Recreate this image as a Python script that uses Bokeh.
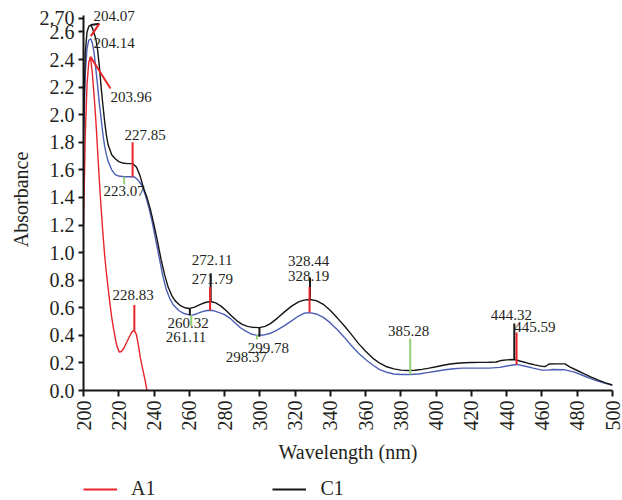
import math
from bokeh.plotting import figure
from bokeh.layouts import column
from bokeh.models import (ColumnDataSource, Range1d, FixedTicker, CustomJSTickFormatter,
                          Legend, LegendItem, LabelSet)
from bokeh.core.properties import value
from bokeh.embed import file_html
from bokeh.resources import INLINE

# --- UV-Vis absorbance spectra -------------------------------------------
wl_a1 = [200, 201, 202, 203, 203.96, 205, 206, 207, 208, 209, 210, 211, 212, 213, 214,
         215, 216, 217, 218, 219, 220.3, 221.5, 223, 224.5, 226, 227.5, 228.83, 230,
         231, 232.2, 233.5, 235, 236]
abs_a1 = [1.20, 1.85, 2.22, 2.38, 2.42, 2.30, 2.14, 1.96, 1.74, 1.52, 1.32, 1.14, 0.98,
          0.85, 0.74, 0.63, 0.53, 0.45, 0.38, 0.32, 0.278, 0.283, 0.31, 0.35, 0.39, 0.425,
          0.436, 0.405, 0.34, 0.24, 0.16, 0.07, 0.0]

wl_b1 = [200, 201, 202, 203, 204.14, 205, 206, 207, 208, 209, 210, 211, 212, 213, 214,
         216, 218, 220, 223.07, 226, 229, 231, 233, 235, 237, 239, 241, 243, 245, 247,
         249, 251, 254, 257, 261.11, 264, 267, 270, 271.79, 274, 277, 280, 283, 286, 289,
         292, 295, 298.37, 302, 306, 310, 314, 318, 322, 325, 328.19, 332, 336, 340, 344,
         348, 352, 356, 360, 364, 368, 372, 376, 380, 385.28, 390, 395, 400, 405, 410,
         415, 420, 430, 436, 440, 445.59, 450, 455, 460, 463, 466, 473, 478, 484, 490,
         495, 500]
abs_b1 = [1.80, 2.30, 2.48, 2.54, 2.55, 2.52, 2.45, 2.33, 2.21, 2.08, 1.97, 1.86, 1.77,
          1.71, 1.66, 1.60, 1.565, 1.555, 1.55, 1.55, 1.548, 1.525, 1.49, 1.42, 1.33,
          1.22, 1.09, 0.96, 0.83, 0.73, 0.665, 0.62, 0.58, 0.558, 0.545, 0.555, 0.57,
          0.58, 0.582, 0.578, 0.565, 0.55, 0.525, 0.49, 0.455, 0.43, 0.41, 0.40, 0.402,
          0.415, 0.44, 0.47, 0.505, 0.54, 0.56, 0.565, 0.555, 0.53, 0.49, 0.44, 0.385,
          0.325, 0.27, 0.225, 0.185, 0.152, 0.132, 0.12, 0.116, 0.116, 0.12, 0.13, 0.14,
          0.15, 0.158, 0.162, 0.162, 0.162, 0.168, 0.178, 0.189, 0.178, 0.162, 0.148,
          0.148, 0.152, 0.15, 0.135, 0.105, 0.075, 0.055, 0.038]

wl_c1 = [200, 201, 202, 203, 204.07, 205, 206, 207, 208, 209, 210, 211, 212, 213, 214,
         216, 218, 220, 222, 225, 228, 230, 232, 234, 236, 238, 240, 242, 244, 246, 248,
         250, 252, 255, 258, 260.32, 263, 266, 269, 272.11, 275, 278, 281, 284, 287, 290,
         293, 296, 299.78, 303, 306, 310, 314, 318, 322, 325, 328.44, 332, 336, 340, 344,
         348, 352, 356, 360, 364, 368, 372, 376, 380, 384, 388, 392, 396, 400, 404, 408,
         412, 416, 420, 425, 430, 434, 437, 440, 444.32, 448, 452, 456, 460, 462, 464,
         468, 473, 476, 480, 484, 488, 492, 496, 500]
abs_c1 = [1.90, 2.45, 2.60, 2.64, 2.65, 2.63, 2.59, 2.55, 2.47, 2.35, 2.20, 2.07, 1.95,
          1.85, 1.78, 1.71, 1.68, 1.66, 1.65, 1.645, 1.645, 1.62, 1.56, 1.47, 1.40, 1.31,
          1.20, 1.08, 0.95, 0.84, 0.75, 0.69, 0.65, 0.615, 0.598, 0.595, 0.605, 0.622,
          0.638, 0.645, 0.635, 0.612, 0.578, 0.54, 0.505, 0.48, 0.465, 0.458, 0.456,
          0.465, 0.485, 0.525, 0.57, 0.612, 0.643, 0.655, 0.66, 0.652, 0.625, 0.58, 0.525,
          0.468, 0.405, 0.34, 0.285, 0.235, 0.198, 0.172, 0.157, 0.148, 0.145, 0.147,
          0.153, 0.162, 0.172, 0.183, 0.192, 0.198, 0.201, 0.203, 0.204, 0.205, 0.207,
          0.218, 0.222, 0.225, 0.212, 0.198, 0.186, 0.175, 0.174, 0.192, 0.193, 0.193,
          0.17, 0.145, 0.12, 0.097, 0.075, 0.055, 0.04]

# Peak / valley wavelengths picked on the spectra
peak_nm = [204.07, 204.14, 203.96, 227.85, 223.07, 228.83, 260.32, 261.11, 272.11,
           271.79, 299.78, 298.37, 328.44, 328.19, 385.28, 444.32, 445.59]

x_ticks = list(range(200, 520, 20))
y_ticks = [0.0, 0.2, 0.4, 0.6, 0.8, 1.0, 1.2, 1.4, 1.6, 1.8, 2.0, 2.2, 2.4, 2.6, 2.7]

RED = "#e8242b"
BLUE = "#4d5fb5"
BLACK = "#151515"
GREEN = "#93d07a"
TEXT = "#231f20"
FONT = "Liberation Serif"

# Marker style per peak: colour, marker start/end heights, marker end wavelength
# (leaders for the crowded 204 nm region), and label anchor.
marker_style = {
    204.07: dict(color=BLACK, y0=2.65, y1=2.66, x1=209.0, lx=205.7, ly=2.716),
    204.14: dict(color=RED, y0=2.57, y1=2.66, x1=209.0, lx=205.7, ly=2.52),
    203.96: dict(color=RED, y0=2.42, y1=2.19, x1=215.3, lx=215.3, ly=2.13),
    227.85: dict(color=RED, y0=1.55, y1=1.80, lx=223.3, ly=1.85),
    223.07: dict(color=GREEN, y0=1.55, y1=1.495, lx=211.4, ly=1.45),
    228.83: dict(color=RED, y0=0.436, y1=0.62, lx=216.5, ly=0.69),
    260.32: dict(color=BLACK, y0=0.595, y1=0.545, lx=247.7, ly=0.49),
    261.11: dict(color=GREEN, y0=0.545, y1=0.465, lx=246.6, ly=0.385),
    272.11: dict(color=BLACK, y0=0.645, y1=0.85, lx=261.4, ly=0.944),
    271.79: dict(color=RED, y0=0.582, y1=0.75, lx=261.4, ly=0.806),
    299.78: dict(color=BLACK, y0=0.456, y1=0.39, lx=293.2, ly=0.31),
    298.37: dict(color=GREEN, y0=0.40, y1=0.37, lx=280.7, ly=0.24),
    328.44: dict(color=BLACK, y0=0.66, y1=0.82, lx=316.0, ly=0.937),
    328.19: dict(color=RED, y0=0.565, y1=0.75, lx=316.0, ly=0.83),
    385.28: dict(color=GREEN, y0=0.116, y1=0.377, lx=372.7, ly=0.435),
    444.32: dict(color=BLACK, y0=0.225, y1=0.486, lx=431.0, ly=0.545),
    445.59: dict(color=RED, y0=0.189, y1=0.42, lx=444.3, ly=0.46),
}

# Main spectrum plot (the y range runs a little past 2.70 so the top peak label fits)
p = figure(width=622, height=475, output_backend="svg", toolbar_location=None,
           x_range=Range1d(200, 500), y_range=Range1d(0, 2.77),
           min_border_left=83, min_border_right=10, min_border_top=8,
           min_border_bottom=85, background_fill_color="white",
           border_fill_color="white")
p.grid.visible = False
p.outline_line_color = None

r_a1 = p.line(wl_a1, abs_a1, line_color=RED, line_width=1.4)
r_b1 = p.line(wl_b1, abs_b1, line_color=BLUE, line_width=1.4)
r_c1 = p.line(wl_c1, abs_c1, line_color=BLACK, line_width=1.4)

seg = dict(x0=[], y0=[], x1=[], y1=[], color=[])
lab = dict(x=[], y=[], text=[])
for nm in peak_nm:
    st = marker_style[nm]
    seg["x0"].append(nm)
    seg["y0"].append(st["y0"])
    seg["x1"].append(st.get("x1", nm))
    seg["y1"].append(st["y1"])
    seg["color"].append(st["color"])
    lab["x"].append(st["lx"])
    lab["y"].append(st["ly"])
    lab["text"].append(f"{nm:.2f}")

p.segment(x0="x0", y0="y0", x1="x1", y1="y1", line_color="color", line_width=2,
          source=ColumnDataSource(seg))
p.add_layout(LabelSet(x="x", y="y", text="text", source=ColumnDataSource(lab),
                      text_align="left", text_baseline="middle",
                      text_font=value(FONT), text_font_size="15px", text_color=TEXT))

# Axes
for ax in (p.xaxis[0], p.yaxis[0]):
    ax.axis_line_width = 2
    ax.axis_line_color = BLACK
    ax.major_tick_line_width = 2
    ax.major_tick_line_color = BLACK
    ax.major_tick_in = 0
    ax.minor_tick_line_color = None
    ax.major_label_text_font = FONT
    ax.major_label_text_font_size = "20px"
    ax.major_label_text_color = TEXT
    ax.axis_label_text_font = FONT
    ax.axis_label_text_font_size = "20px"
    ax.axis_label_text_font_style = "normal"
    ax.axis_label_text_color = TEXT

p.xaxis.ticker = FixedTicker(ticks=x_ticks)
p.xaxis.major_tick_out = 6
p.xaxis.major_label_orientation = math.pi / 2
p.xaxis.major_label_standoff = 4
p.xaxis.axis_label = "Wavelength (nm)"
p.xaxis.axis_label_standoff = 7

p.yaxis.ticker = FixedTicker(ticks=y_ticks)
p.yaxis.bounds = (0, 2.72)
p.yaxis.formatter = CustomJSTickFormatter(
    code="return tick > 2.65 ? tick.toFixed(2) : tick.toFixed(1);")
p.yaxis.major_tick_out = 5
p.yaxis.major_label_standoff = 4
p.yaxis.axis_label = "Absorbance"
p.yaxis.axis_label_standoff = 5

# Legend strip under the plot; its key lines reuse the spectra, kept out of view
leg = figure(width=622, height=25, output_backend="svg", toolbar_location=None,
             x_range=Range1d(0, 622), y_range=Range1d(100, 125),
             x_axis_type=None, y_axis_type=None, min_border=0,
             background_fill_color="white", border_fill_color="white")
leg.grid.visible = False
leg.outline_line_color = None
k_a1 = leg.line(wl_a1, abs_a1, line_color=RED, line_width=2)
k_c1 = leg.line(wl_c1, abs_c1, line_color=BLACK, line_width=2)
legend = Legend(items=[LegendItem(label="A1", renderers=[k_a1]),
                       LegendItem(label="C1", renderers=[k_c1])],
                orientation="horizontal", location=(0, 0),
                glyph_width=34, glyph_height=20, label_standoff=14, spacing=117,
                padding=0, margin=0, border_line_color=None,
                background_fill_alpha=0, label_text_font=FONT,
                label_text_font_size="20px", label_text_color=TEXT)
leg.add_layout(legend)

open("out.html", "w").write(file_html(column(p, leg, spacing=0), INLINE))
